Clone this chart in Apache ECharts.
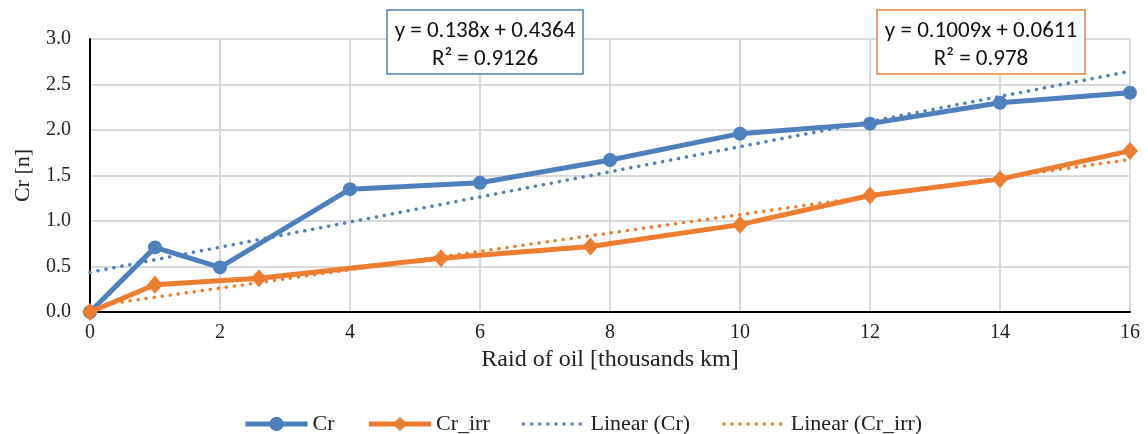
<!DOCTYPE html>
<html>
<head>
<meta charset="utf-8">
<script src="https://cdn.jsdelivr.net/npm/echarts@6/dist/echarts.min.js"></script>
<style>
  html, body { margin: 0; padding: 0; background: #ffffff; }
  #chart { width: 1148px; height: 434px; }
</style>
</head>
<body>
<div id="chart"></div>
<script>
// Measured points: distance travelled (thousands km) vs. Cr
const crX = [0, 1, 2, 4, 6, 8, 10, 12, 14, 16];
const crY = [0, 0.71, 0.49, 1.35, 1.42, 1.67, 1.96, 2.07, 2.30, 2.41];

const crIrrX = [0, 1, 2.6, 5.4, 7.7, 10, 12, 14, 16];
const crIrrY = [0, 0.30, 0.37, 0.59, 0.72, 0.96, 1.28, 1.46, 1.77];

// Linear fits as printed in the equation boxes
const fitCr = { slope: 0.138, intercept: 0.4364, r2: '0.9126' };
const fitCrIrr = { slope: 0.1009, intercept: 0.0611, r2: '0.978' };

const xTicks = [0, 2, 4, 6, 8, 10, 12, 14, 16];
const yTicks = [0.0, 0.5, 1.0, 1.5, 2.0, 2.5, 3.0];

const BLUE = '#4f80be';
const ORANGE = '#ed7d31';
const SERIF = '"Liberation Serif", "Times New Roman", serif';
const SANS = 'Carlito, Lato, "Liberation Sans", Arial, sans-serif';

const pairs = (xs, ys) => xs.map((x, i) => [x, ys[i]]);
const fitLine = (f) => [xTicks[0], xTicks[xTicks.length - 1]].map(x => [x, f.slope * x + f.intercept]);

// Boxed equation label: white frame above the grid plus two centred lines of text
function equationBox(x, y, w, h, color, fit) {
  const cx = x + w / 2;
  return [
    { type: 'rect', z: 100, shape: { x: x, y: y, width: w, height: h },
      style: { fill: '#ffffff', stroke: color, lineWidth: 1.5 } },
    { type: 'text', z: 101, x: cx, y: y + 21,
      style: { text: 'y = ' + fit.slope + 'x + ' + fit.intercept, fontFamily: SANS, fontSize: 23,
               fill: '#111', align: 'center', verticalAlign: 'middle' } },
    { type: 'text', z: 101, x: cx, y: y + 49,
      style: { text: 'R² = ' + fit.r2, fontFamily: SANS, fontSize: 23,
               fill: '#111', align: 'center', verticalAlign: 'middle' } }
  ];
}

const chart = echarts.init(document.getElementById('chart'), null, { renderer: 'canvas' });

chart.setOption({
  animation: false,
  backgroundColor: '#ffffff',
  grid: { left: 90, right: 18, top: 39, bottom: 122, containLabel: false },
  xAxis: {
    type: 'value',
    min: xTicks[0],
    max: xTicks[xTicks.length - 1],
    interval: 2,
    name: 'Raid of oil [thousands km]',
    nameLocation: 'middle',
    nameGap: 29,
    nameTextStyle: { fontFamily: SERIF, fontSize: 24, color: '#222' },
    axisLine: { onZero: false, lineStyle: { color: '#000', width: 2 } },
    axisTick: { show: false },
    axisLabel: { fontFamily: SERIF, fontSize: 20, color: '#222', margin: 11 },
    splitLine: { show: true, lineStyle: { color: '#d9d9d9', width: 2 } }
  },
  yAxis: {
    type: 'value',
    min: yTicks[0],
    max: yTicks[yTicks.length - 1],
    interval: 0.5,
    name: 'Cr [n]',
    nameLocation: 'middle',
    nameGap: 56,
    nameRotate: 90,
    nameTextStyle: { fontFamily: SERIF, fontSize: 22, color: '#222' },
    axisLine: { show: true, lineStyle: { color: '#000', width: 2 } },
    axisTick: { show: false },
    axisLabel: { fontFamily: SERIF, fontSize: 20, color: '#222', margin: 19,
      formatter: v => v.toFixed(1) },
    splitLine: { show: true, lineStyle: { color: '#d9d9d9', width: 2 } }
  },
  legend: {
    top: 408,
    left: 238,
    itemGap: 32,
    itemWidth: 62,
    itemHeight: 18,
    textStyle: { fontFamily: SERIF, fontSize: 22, color: '#222' },
    data: [
      { name: 'Cr', lineStyle: { width: 5 } },
      { name: 'Cr_irr', lineStyle: { width: 5 } },
      { name: 'Linear (Cr)', itemStyle: { opacity: 0 }, lineStyle: { width: 3.5 } },
      { name: 'Linear (Cr_irr)', itemStyle: { opacity: 0 }, lineStyle: { width: 3.5 } }
    ]
  },
  series: [
    {
      name: 'Linear (Cr)',
      type: 'line',
      data: fitLine(fitCr),
      symbol: 'none',
      lineStyle: { color: BLUE, width: 3.5, type: [0.1, 8], cap: 'round' },
      itemStyle: { color: BLUE },
      z: 2
    },
    {
      name: 'Linear (Cr_irr)',
      type: 'line',
      data: fitLine(fitCrIrr),
      symbol: 'none',
      lineStyle: { color: ORANGE, width: 3.5, type: [0.1, 8], cap: 'round' },
      itemStyle: { color: ORANGE },
      z: 2
    },
    {
      name: 'Cr',
      type: 'line',
      data: pairs(crX, crY),
      symbol: 'circle',
      symbolSize: 14,
      lineStyle: { color: BLUE, width: 5 },
      itemStyle: { color: BLUE },
      z: 3
    },
    {
      name: 'Cr_irr',
      type: 'line',
      data: pairs(crIrrX, crIrrY),
      symbol: 'diamond',
      symbolSize: [16, 18],
      lineStyle: { color: ORANGE, width: 5 },
      itemStyle: { color: ORANGE },
      z: 4
    }
  ],
  graphic: [
    ...equationBox(387, 10, 196, 64, BLUE, fitCr),
    ...equationBox(877, 10, 208, 64, ORANGE, fitCrIrr)
  ]
});
</script>
</body>
</html>
